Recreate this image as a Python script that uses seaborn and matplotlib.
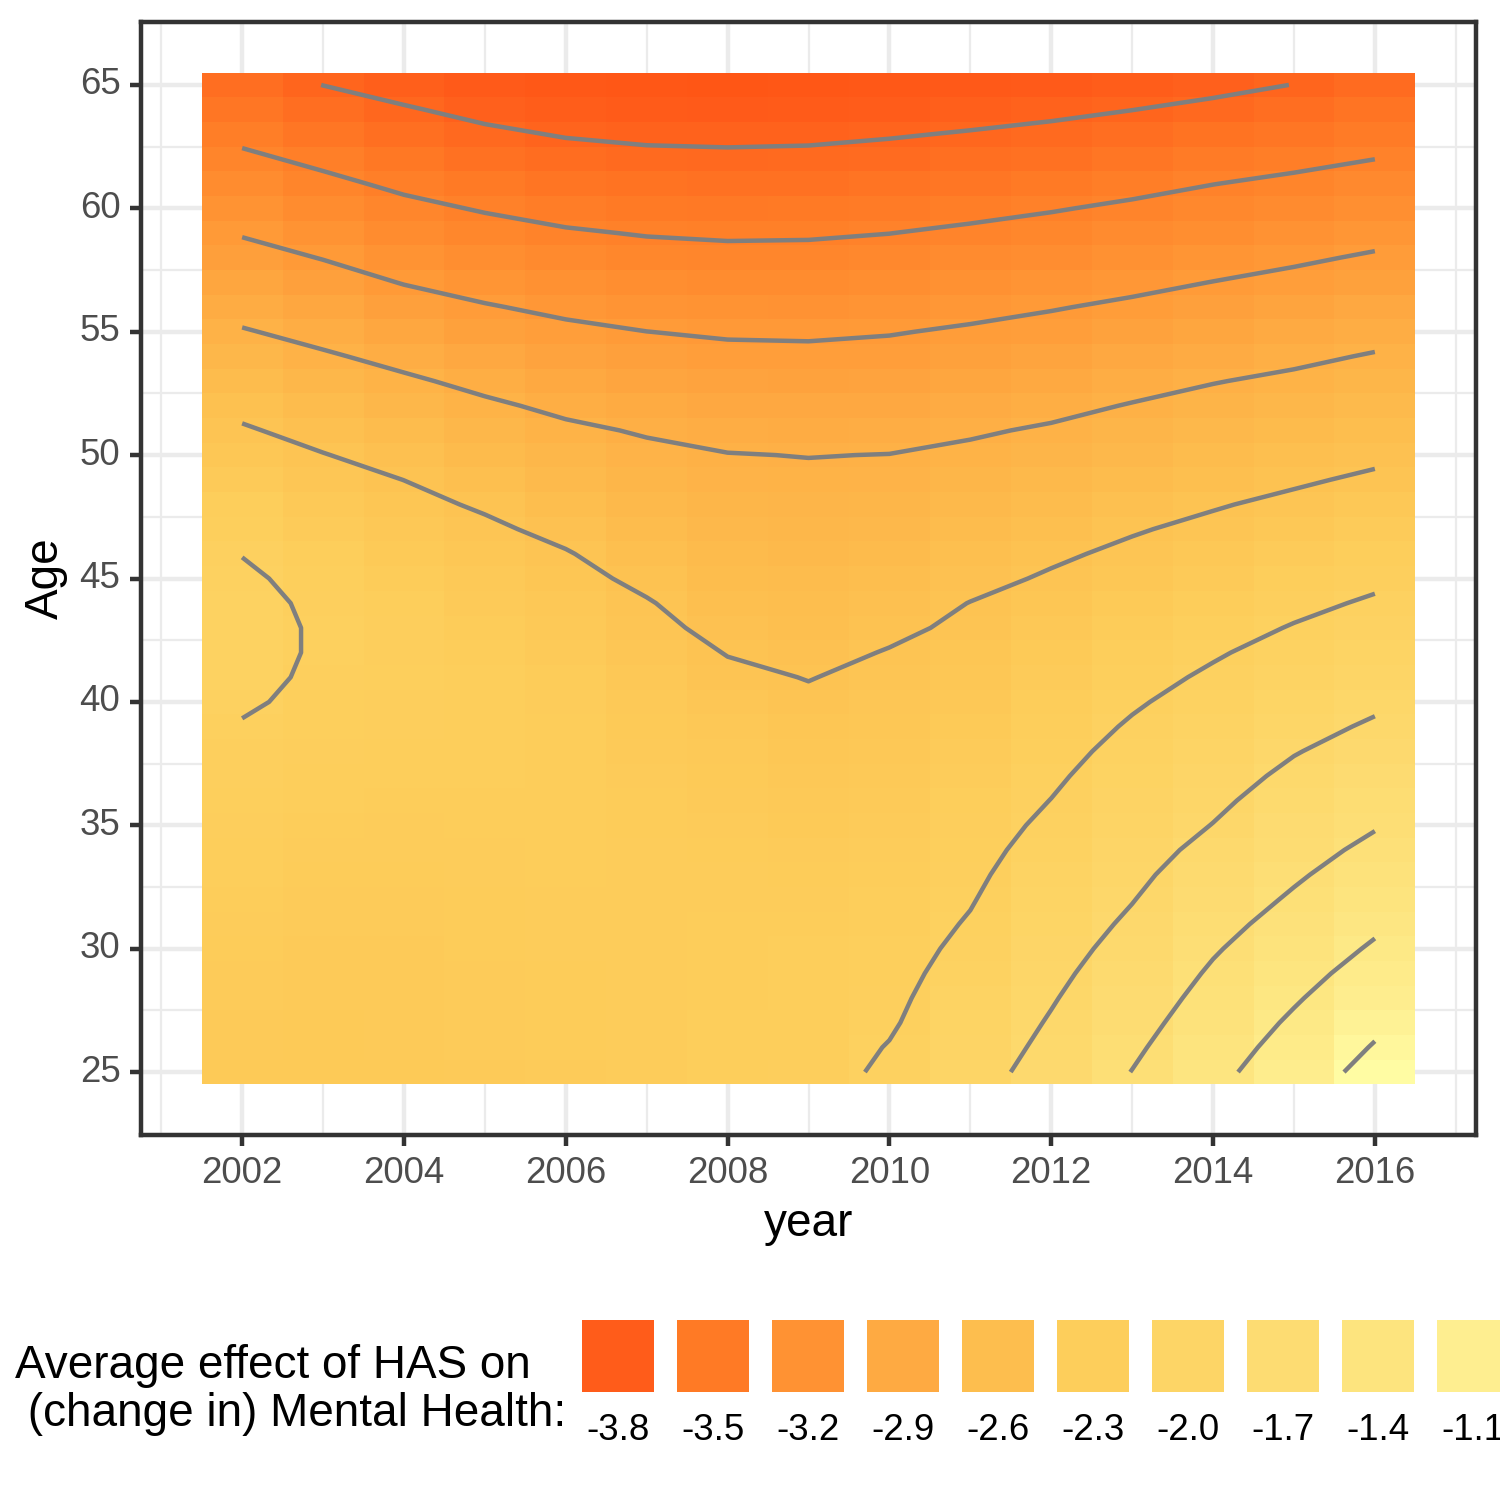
import numpy as np
import pandas as pd
import matplotlib
matplotlib.use("Agg")
import matplotlib.pyplot as plt
from matplotlib.colors import LinearSegmentedColormap
from matplotlib.patches import Rectangle
import seaborn as sns

# Data: average effect of HAS on mental health, by survey year (columns) and age 25..65
years = [2002, 2003, 2004, 2005, 2006, 2007, 2008, 2009, 2010, 2011, 2012, 2013, 2014, 2015, 2016]
ages = list(range(25, 66))

eff_2002 = [-2.380, -2.374, -2.367, -2.360, -2.352, -2.343, -2.333, -2.322, -2.310, -2.297, -2.283,
            -2.267, -2.250, -2.232, -2.215, -2.170, -2.140, -2.125, -2.125, -2.140, -2.170, -2.205,
            -2.260, -2.315, -2.370, -2.425, -2.480, -2.550, -2.629, -2.707, -2.786, -2.867, -2.950,
            -3.032, -3.114, -3.197, -3.280, -3.363, -3.447, -3.532, -3.617]
eff_2003 = [-2.382, -2.380, -2.378, -2.375, -2.371, -2.366, -2.360, -2.353, -2.345, -2.336, -2.326,
            -2.315, -2.303, -2.290, -2.275, -2.260, -2.240, -2.228, -2.228, -2.240, -2.260, -2.307,
            -2.353, -2.400, -2.447, -2.493, -2.562, -2.634, -2.706, -2.778, -2.858, -2.941, -3.024,
            -3.107, -3.191, -3.274, -3.357, -3.441, -3.528, -3.614, -3.702]
eff_2004 = [-2.376, -2.375, -2.373, -2.371, -2.368, -2.364, -2.359, -2.353, -2.346, -2.338, -2.330,
            -2.320, -2.310, -2.300, -2.290, -2.282, -2.278, -2.280, -2.290, -2.310, -2.340, -2.376,
            -2.416, -2.458, -2.501, -2.569, -2.637, -2.705, -2.773, -2.851, -2.937, -3.023, -3.108,
            -3.190, -3.273, -3.355, -3.437, -3.519, -3.601, -3.684, -3.768]
eff_2005 = [-2.365, -2.363, -2.361, -2.358, -2.355, -2.351, -2.347, -2.342, -2.337, -2.331, -2.325,
            -2.318, -2.312, -2.306, -2.302, -2.302, -2.308, -2.320, -2.340, -2.366, -2.398, -2.434,
            -2.472, -2.519, -2.582, -2.645, -2.709, -2.772, -2.845, -2.925, -3.006, -3.087, -3.169,
            -3.251, -3.333, -3.415, -3.499, -3.583, -3.666, -3.748, -3.828]
eff_2006 = [-2.352, -2.350, -2.348, -2.345, -2.342, -2.338, -2.334, -2.330, -2.326, -2.323, -2.320,
            -2.318, -2.318, -2.320, -2.325, -2.335, -2.350, -2.370, -2.395, -2.424, -2.456, -2.490,
            -2.541, -2.598, -2.656, -2.713, -2.770, -2.836, -2.911, -2.986, -3.061, -3.139, -3.220,
            -3.300, -3.381, -3.464, -3.547, -3.630, -3.712, -3.792, -3.872]
eff_2007 = [-2.334, -2.333, -2.332, -2.331, -2.330, -2.329, -2.329, -2.330, -2.332, -2.336, -2.341,
            -2.348, -2.357, -2.368, -2.381, -2.397, -2.416, -2.438, -2.462, -2.490, -2.532, -2.579,
            -2.625, -2.671, -2.717, -2.763, -2.815, -2.886, -2.958, -3.029, -3.099, -3.178, -3.255,
            -3.333, -3.411, -3.493, -3.574, -3.655, -3.736, -3.816, -3.896]
eff_2008 = [-2.313, -2.314, -2.315, -2.317, -2.319, -2.322, -2.326, -2.331, -2.337, -2.345, -2.355,
            -2.367, -2.382, -2.400, -2.422, -2.447, -2.475, -2.505, -2.541, -2.577, -2.613, -2.650,
            -2.686, -2.722, -2.758, -2.794, -2.855, -2.921, -2.987, -3.053, -3.122, -3.197, -3.272,
            -3.348, -3.425, -3.504, -3.583, -3.663, -3.742, -3.822, -3.902]
eff_2009 = [-2.290, -2.293, -2.297, -2.302, -2.308, -2.315, -2.324, -2.335, -2.347, -2.361, -2.377,
            -2.395, -2.414, -2.435, -2.457, -2.480, -2.504, -2.537, -2.570, -2.603, -2.636, -2.669,
            -2.703, -2.736, -2.769, -2.804, -2.868, -2.931, -2.995, -3.059, -3.126, -3.200, -3.273,
            -3.346, -3.421, -3.500, -3.578, -3.657, -3.736, -3.816, -3.896]
eff_2010 = [-2.161, -2.191, -2.222, -2.241, -2.259, -2.276, -2.292, -2.307, -2.322, -2.337, -2.353,
            -2.370, -2.388, -2.407, -2.427, -2.448, -2.470, -2.493, -2.527, -2.566, -2.604, -2.643,
            -2.681, -2.720, -2.759, -2.797, -2.858, -2.921, -2.983, -3.046, -3.110, -3.183, -3.256,
            -3.329, -3.402, -3.480, -3.558, -3.636, -3.714, -3.794, -3.874]
eff_2011 = [-1.992, -2.026, -2.059, -2.092, -2.124, -2.155, -2.185, -2.212, -2.236, -2.260, -2.284,
            -2.307, -2.331, -2.355, -2.379, -2.403, -2.427, -2.451, -2.474, -2.497, -2.542, -2.587,
            -2.632, -2.678, -2.723, -2.768, -2.819, -2.884, -2.948, -3.013, -3.078, -3.149, -3.223,
            -3.296, -3.370, -3.448, -3.528, -3.607, -3.687, -3.767, -3.847]
eff_2012 = [-1.808, -1.845, -1.881, -1.917, -1.952, -1.987, -2.022, -2.057, -2.092, -2.127, -2.162,
            -2.197, -2.229, -2.260, -2.292, -2.324, -2.356, -2.387, -2.419, -2.451, -2.483, -2.524,
            -2.575, -2.627, -2.678, -2.730, -2.781, -2.843, -2.910, -2.976, -3.043, -3.111, -3.186,
            -3.261, -3.336, -3.412, -3.494, -3.575, -3.657, -3.738, -3.818]
eff_2013 = [-1.595, -1.641, -1.687, -1.732, -1.777, -1.821, -1.865, -1.908, -1.947, -1.986, -2.025,
            -2.064, -2.103, -2.142, -2.181, -2.221, -2.262, -2.303, -2.345, -2.386, -2.427, -2.469,
            -2.513, -2.569, -2.624, -2.680, -2.735, -2.791, -2.858, -2.929, -2.999, -3.070, -3.143,
            -3.219, -3.295, -3.371, -3.451, -3.534, -3.617, -3.702, -3.782]
eff_2014 = [-1.369, -1.419, -1.470, -1.520, -1.570, -1.622, -1.676, -1.731, -1.785, -1.840, -1.895,
            -1.942, -1.988, -2.034, -2.080, -2.126, -2.172, -2.219, -2.268, -2.317, -2.365, -2.414,
            -2.463, -2.513, -2.572, -2.630, -2.689, -2.747, -2.807, -2.879, -2.952, -3.025, -3.097,
            -3.173, -3.250, -3.327, -3.403, -3.489, -3.574, -3.660, -3.745]
eff_2015 = [-1.146, -1.204, -1.263, -1.325, -1.386, -1.448, -1.509, -1.571, -1.630, -1.686, -1.742,
            -1.799, -1.855, -1.911, -1.967, -2.022, -2.078, -2.133, -2.189, -2.244, -2.299, -2.354,
            -2.409, -2.464, -2.522, -2.583, -2.645, -2.706, -2.768, -2.835, -2.907, -2.980, -3.053,
            -3.128, -3.206, -3.285, -3.364, -3.445, -3.529, -3.613, -3.697]
eff_2016 = [-0.910, -0.982, -1.054, -1.127, -1.199, -1.271, -1.341, -1.410, -1.479, -1.548, -1.616,
            -1.681, -1.745, -1.810, -1.874, -1.936, -1.996, -2.057, -2.117, -2.177, -2.237, -2.296,
            -2.355, -2.414, -2.473, -2.534, -2.597, -2.661, -2.724, -2.787, -2.859, -2.932, -3.006,
            -3.079, -3.158, -3.239, -3.319, -3.401, -3.480, -3.560, -3.640]

contour_levels = [-3.7, -3.4, -3.1, -2.8, -2.5, -2.2, -1.9, -1.6, -1.3, -1.0]
legend_breaks = [-3.8, -3.5, -3.2, -2.9, -2.6, -2.3, -2.0, -1.7, -1.4, -1.1]

# fill scale anchors (value -> colour)
scale_values = [-3.95, -3.8, -3.5, -3.2, -2.9, -2.6, -2.3, -2.0, -1.7, -1.4, -1.1, -0.85]
scale_colors = ["#FF5414", "#FF5C1A", "#FF7A25", "#FF9333", "#FEAA42", "#FDBE4E",
                "#FDCE5B", "#FDD566", "#FDDC72", "#FDE47E", "#FEEE8F", "#FFFFA8"]

columns = [eff_2002, eff_2003, eff_2004, eff_2005, eff_2006, eff_2007, eff_2008, eff_2009,
           eff_2010, eff_2011, eff_2012, eff_2013, eff_2014, eff_2015, eff_2016]
grid = pd.DataFrame({y: c for y, c in zip(years, columns)}, index=ages)

vmin, vmax = scale_values[0], scale_values[-1]
cmap = LinearSegmentedColormap.from_list(
    "has", [((v - vmin) / (vmax - vmin), c) for v, c in zip(scale_values, scale_colors)])

sns.set_theme(style="white")
plt.rcParams['font.family'] = ['Liberation Sans', 'DejaVu Sans']

W = 1500.0
fig = plt.figure(figsize=(5, 5), dpi=300)
ax = fig.add_axes([141 / W, 365 / W, 1335 / W, 1113 / W])

sns.heatmap(grid, ax=ax, cmap=cmap, vmin=vmin, vmax=vmax, cbar=False, linewidths=0)

# contour lines on cell centres (solid, also for negative levels)
xc = np.arange(len(years)) + 0.5
yc = np.arange(len(ages)) + 0.5
ax.contour(xc, yc, grid.values, levels=contour_levels, colors="#7F7F7F",
           linewidths=1.07, linestyles="solid")

# continuous-looking axes with ggplot-style expansion
ax.set_xlim(-0.75, len(years) + 0.75)
ax.set_ylim(-0.05 * len(ages), len(ages) * 1.05)

xt = years[::2]
ax.set_xticks([y - years[0] + 0.5 for y in xt])
ax.set_xticklabels([str(y) for y in xt], rotation=0)
ax.set_xticks([y - years[0] + 0.5 for y in range(2001, 2018, 2)], minor=True)
yt = list(range(25, 66, 5))
ax.set_yticks([a - ages[0] + 0.5 for a in yt])
ax.set_yticklabels([str(a) for a in yt], rotation=0)
ax.set_yticks([a - ages[0] + 0.5 for a in np.arange(22.5, 68, 5)], minor=True)

ax.set_axisbelow(True)
ax.grid(True, which="major", color="#EBEBEB", linewidth=1.07)
ax.grid(True, which="minor", color="#EBEBEB", linewidth=0.53)
for sp in ax.spines.values():
    sp.set_visible(True)
    sp.set_color("#333333")
    sp.set_linewidth(1.07)

ax.tick_params(which="major", bottom=True, left=True, length=2.75, width=1.07,
               color="#333333", labelsize=8.8, labelcolor="#4D4D4D", pad=2.2)
ax.tick_params(which="minor", bottom=False, left=False, length=0)

ax.set_xlabel("year", fontsize=11, color="black", labelpad=2.75)
ax.set_ylabel("Age", fontsize=11, color="black", labelpad=2.75)

# legend at the bottom: title + keys with labels below (runs off the right edge as in the original)
fig.text(15 / W, 1 - 1390 / W, "Average effect of HAS on\n (change in) Mental Health:",
         ha="left", va="center", fontsize=11, color="black", linespacing=1.1)
norm = plt.Normalize(vmin, vmax)
for i, b in enumerate(legend_breaks):
    x0 = 582 + 95 * i
    fig.add_artist(Rectangle((x0 / W, 1 - 1392 / W), 72 / W, 72 / W,
                             transform=fig.transFigure, facecolor=cmap(norm(b)),
                             edgecolor="none"))
    fig.text((x0 + 36) / W, 1 - 1430 / W, f"{b:.1f}", ha="center", va="center",
             fontsize=8.8, color="black")

fig.savefig("out.png", dpi=300)
